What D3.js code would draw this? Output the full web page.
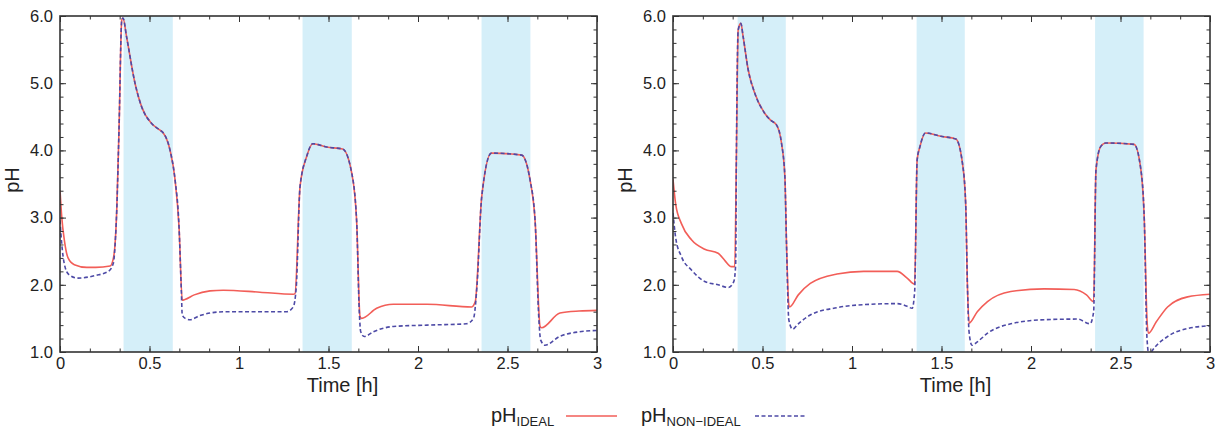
<!DOCTYPE html>
<html>
<head>
<meta charset="utf-8">
<script src="https://cdn.jsdelivr.net/npm/d3@7"></script>
<style>
  body { margin: 0; background: #fff; }
  text { font-family: "Liberation Sans", Arial, sans-serif; fill: #222; }
</style>
</head>
<body>
<div id="chart-area"></div>
<script>
// time [h], pH pairs
const leftIdeal = [[0,3.41],[0.01,3.0],[0.025,2.65],[0.045,2.4],[0.08,2.3],[0.15,2.26],[0.2,2.26],[0.28,2.28],[0.30,2.42],[0.317,3.11],[0.33,4.35],[0.345,5.94],[0.352,5.97],[0.372,5.69],[0.419,5.0],[0.456,4.65],[0.512,4.40],[0.559,4.30],[0.577,4.26],[0.615,4.0],[0.642,3.58],[0.665,2.86],[0.683,1.77],[0.698,1.78],[0.75,1.85],[0.838,1.91],[0.912,1.92],[1.117,1.89],[1.303,1.86],[1.313,1.87],[1.341,3.46],[1.378,3.91],[1.412,4.10],[1.49,4.05],[1.579,4.02],[1.63,3.66],[1.657,2.96],[1.676,1.53],[1.685,1.50],[1.769,1.65],[1.862,1.71],[2.05,1.71],[2.3,1.67],[2.32,1.75],[2.356,3.31],[2.41,3.96],[2.579,3.93],[2.626,3.56],[2.654,2.96],[2.682,1.38],[2.69,1.36],[2.793,1.58],[2.9,1.61],[3,1.62]];
const leftNonIdeal = [[0,2.96],[0.01,2.6],[0.025,2.3],[0.05,2.15],[0.1,2.1],[0.2,2.14],[0.27,2.2],[0.298,2.32],[0.31,2.7],[0.317,3.11],[0.33,4.35],[0.345,5.94],[0.352,5.97],[0.372,5.69],[0.419,5.0],[0.456,4.65],[0.512,4.40],[0.559,4.30],[0.577,4.26],[0.615,4.0],[0.642,3.58],[0.665,2.86],[0.678,1.9],[0.683,1.55],[0.70,1.50],[0.726,1.48],[0.78,1.54],[0.838,1.58],[0.93,1.60],[1.266,1.60],[1.303,1.67],[1.32,1.97],[1.341,3.46],[1.378,3.91],[1.412,4.10],[1.49,4.05],[1.579,4.02],[1.63,3.66],[1.657,2.96],[1.672,1.6],[1.68,1.30],[1.70,1.23],[1.75,1.30],[1.862,1.38],[2.05,1.40],[2.27,1.42],[2.31,1.50],[2.33,2.0],[2.356,3.31],[2.41,3.96],[2.579,3.93],[2.626,3.56],[2.654,2.96],[2.675,1.5],[2.685,1.18],[2.709,1.10],[2.79,1.23],[2.9,1.30],[3,1.32]];
const rightIdeal = [[0,3.57],[0.015,3.2],[0.047,2.91],[0.103,2.67],[0.177,2.53],[0.252,2.47],[0.29,2.36],[0.326,2.27],[0.345,2.27],[0.354,3.86],[0.364,5.79],[0.379,5.89],[0.392,5.69],[0.42,5.20],[0.457,4.85],[0.513,4.55],[0.545,4.45],[0.578,4.38],[0.606,4.11],[0.625,3.61],[0.634,2.62],[0.647,1.70],[0.651,1.67],[0.70,1.85],[0.767,2.02],[0.916,2.16],[1.065,2.20],[1.252,2.20],[1.308,2.10],[1.35,2.01],[1.364,3.86],[1.38,4.06],[1.41,4.26],[1.496,4.21],[1.58,4.17],[1.617,3.81],[1.635,3.21],[1.645,1.97],[1.654,1.43],[1.70,1.6],[1.757,1.75],[1.887,1.90],[2.073,1.94],[2.241,1.93],[2.31,1.85],[2.35,1.75],[2.363,3.71],[2.39,4.06],[2.418,4.11],[2.576,4.09],[2.614,3.71],[2.633,2.96],[2.648,1.48],[2.656,1.28],[2.70,1.45],[2.763,1.67],[2.875,1.82],[3,1.86]];
const rightNonIdeal = [[0,3.07],[0.015,2.7],[0.047,2.42],[0.103,2.22],[0.177,2.05],[0.252,2.0],[0.31,1.96],[0.34,2.05],[0.35,2.3],[0.354,3.86],[0.364,5.79],[0.379,5.89],[0.392,5.69],[0.42,5.20],[0.457,4.85],[0.513,4.55],[0.545,4.45],[0.578,4.38],[0.606,4.11],[0.625,3.61],[0.634,2.62],[0.647,1.48],[0.668,1.34],[0.70,1.42],[0.767,1.55],[0.916,1.66],[1.10,1.71],[1.252,1.72],[1.308,1.68],[1.336,1.65],[1.35,1.9],[1.364,3.86],[1.38,4.06],[1.41,4.26],[1.496,4.21],[1.58,4.17],[1.617,3.81],[1.635,3.21],[1.645,1.97],[1.654,1.3],[1.67,1.10],[1.70,1.15],[1.757,1.28],[1.887,1.42],[2.073,1.48],[2.26,1.49],[2.33,1.42],[2.35,1.6],[2.363,3.71],[2.39,4.06],[2.418,4.11],[2.576,4.09],[2.614,3.71],[2.633,2.96],[2.648,1.2],[2.66,0.95],[2.68,1.03],[2.763,1.23],[2.875,1.35],[3,1.39]];

// shaded intervals [start, end] in hours
const leftBands = [[0.355,0.63],[1.355,1.63],[2.355,2.628]];
const rightBands = [[0.361,0.63],[1.361,1.63],[2.358,2.629]];

const xTicks = [0, 0.5, 1, 1.5, 2, 2.5, 3];
const yTicks = [1, 2, 3, 4, 5, 6];

const WIDTH = 1225, HEIGHT = 434;
const PLOT_W = 537, PLOT_H = 336;
const RED = "#f25e58", BLUE = "#4d4aa6", SHADE = "#d5eff9", AXIS = "#333";

const svg = d3.select("#chart-area").append("svg")
    .attr("width", WIDTH)
    .attr("height", HEIGHT);

svg.append("defs").append("clipPath").attr("id", "plot-clip")
  .append("rect").attr("width", PLOT_W).attr("height", PLOT_H);

const x = d3.scaleLinear().domain([0, 3]).range([0, PLOT_W]);
const y = d3.scaleLinear().domain([1, 6]).range([PLOT_H, 0]);

const line = d3.line()
    .x(d => x(d[0]))
    .y(d => y(d[1]))
    .curve(d3.curveMonotoneX);

function drawPanel(left, top, bands, ideal, nonIdeal) {
    const g = svg.append("g").attr("transform", `translate(${left}, ${top})`);

    g.selectAll("rect.band").data(bands).enter().append("rect")
        .attr("class", "band")
        .attr("x", d => x(d[0]))
        .attr("width", d => x(d[1]) - x(d[0]))
        .attr("y", 0)
        .attr("height", PLOT_H)
        .attr("fill", SHADE);

    const lines = g.append("g").attr("clip-path", "url(#plot-clip)");
    lines.append("path").datum(ideal)
        .attr("d", line).attr("fill", "none")
        .attr("stroke", RED).attr("stroke-width", 1.6);
    lines.append("path").datum(nonIdeal)
        .attr("d", line).attr("fill", "none")
        .attr("stroke", BLUE).attr("stroke-width", 1.6)
        .attr("stroke-dasharray", "4,2.5");

    // minor ticks on all sides
    const xMinor = d3.range(0, 19).map(i => i / 6);
    const yMinor = d3.range(0, 26).map(i => 1 + i * 0.2);
    g.append("g").attr("transform", `translate(0, ${PLOT_H})`)
        .call(d3.axisBottom(x).tickValues(xMinor).tickSize(-3.5).tickFormat(""));
    g.append("g")
        .call(d3.axisTop(x).tickValues(xMinor).tickSize(-3.5).tickFormat(""));
    g.append("g")
        .call(d3.axisLeft(y).tickValues(yMinor).tickSize(-3.5).tickFormat(""));
    g.append("g").attr("transform", `translate(${PLOT_W}, 0)`)
        .call(d3.axisRight(y).tickValues(yMinor).tickSize(-3.5).tickFormat(""));

    // major ticks and labels
    g.append("g").attr("class", "x axis").attr("transform", `translate(0, ${PLOT_H})`)
        .call(d3.axisBottom(x).tickValues(xTicks).tickSize(-6).tickPadding(5).tickFormat(d3.format("")));
    g.append("g")
        .call(d3.axisTop(x).tickValues(xTicks).tickSize(-6).tickFormat(""));
    g.append("g").attr("class", "y axis")
        .call(d3.axisLeft(y).tickValues(yTicks).tickSize(-6).tickPadding(7).tickFormat(d3.format(".1f")));
    g.append("g").attr("transform", `translate(${PLOT_W}, 0)`)
        .call(d3.axisRight(y).tickValues(yTicks).tickSize(-6).tickFormat(""));

    g.selectAll(".domain").remove();
    g.selectAll(".tick line").attr("stroke", AXIS);
    g.selectAll(".tick text")
        .attr("font-family", "Liberation Sans, Arial, sans-serif")
        .attr("font-size", 16.5).attr("fill", "#222");

    g.append("rect")
        .attr("width", PLOT_W).attr("height", PLOT_H)
        .attr("fill", "none").attr("stroke", AXIS).attr("stroke-width", 1.6);

    g.append("text")
        .attr("x", PLOT_W / 2 + 14).attr("y", PLOT_H + 40)
        .attr("text-anchor", "middle").attr("font-size", 20)
        .text("Time [h]");

    g.append("text")
        .attr("transform", `translate(${-41}, ${PLOT_H / 2 - 4}) rotate(-90)`)
        .attr("text-anchor", "middle").attr("font-size", 20)
        .text("pH");
}

drawPanel(60, 16, leftBands, leftIdeal, leftNonIdeal);
drawPanel(673, 16, rightBands, rightIdeal, rightNonIdeal);

// legend
const legend = svg.append("g");
const lab1 = legend.append("text").attr("x", 491).attr("y", 422).attr("font-size", 20);
lab1.append("tspan").text("pH");
lab1.append("tspan").attr("font-size", 13).attr("dy", 4).text("IDEAL");
legend.append("line")
    .attr("x1", 566).attr("x2", 617).attr("y1", 416).attr("y2", 416)
    .attr("stroke", RED).attr("stroke-width", 1.6);

const lab2 = legend.append("text").attr("x", 641).attr("y", 422).attr("font-size", 20);
lab2.append("tspan").text("pH");
lab2.append("tspan").attr("font-size", 13).attr("dy", 4).text("NON\u2212IDEAL");
legend.append("line")
    .attr("x1", 755).attr("x2", 806).attr("y1", 416).attr("y2", 416)
    .attr("stroke", BLUE).attr("stroke-width", 1.6)
    .attr("stroke-dasharray", "4,2.5");
</script>
</body>
</html>
